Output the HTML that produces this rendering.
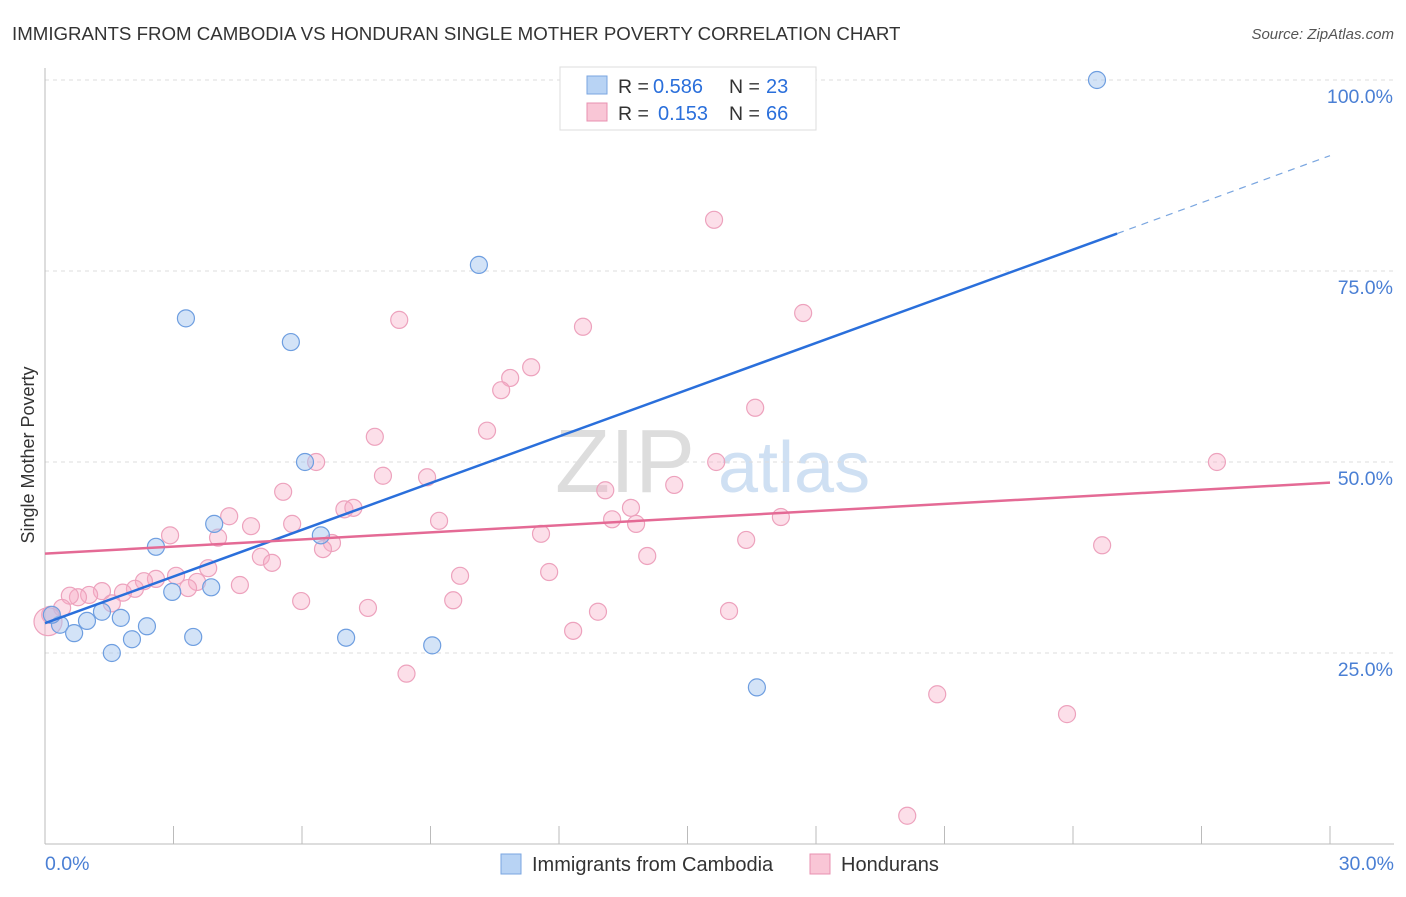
<!DOCTYPE html>
<html><head><meta charset="utf-8"><style>
body{margin:0;background:#fff;font-family:"Liberation Sans",sans-serif}
svg text{font-family:"Liberation Sans",sans-serif}
</style></head><body>
<svg id="chart" width="1406" height="892">
<text x="12" y="40" font-size="18.7" fill="#333">IMMIGRANTS FROM CAMBODIA VS HONDURAN SINGLE MOTHER POVERTY CORRELATION CHART</text>
<text x="1394" y="39" font-size="15" fill="#555" text-anchor="end" font-style="italic">Source: ZipAtlas.com</text>
<text x="555" y="492" font-size="90" fill="#ddd" font-family="Liberation Serif">ZIP</text>
<text x="718" y="492" font-size="72" fill="#cfe0f3">atlas</text>
<g id="grid"></g>
<g id="axes"></g>
<g id="marks"></g>
<text transform="translate(34,455) rotate(-90)" font-size="18" fill="#333" text-anchor="middle">Single Mother Poverty</text>
<g>
<rect x="560" y="67" width="256" height="63" fill="#fff" stroke="#ddd"/>
<rect x="587" y="76" width="20" height="18" fill="#b8d3f4" stroke="#7aa6e0"/>
<text x="618" y="93" font-size="19.5" fill="#333">R =</text>
<text x="653" y="93" font-size="20" fill="#2a6fdb">0.586</text>
<text x="729" y="93" font-size="19.5" fill="#333">N =</text>
<text x="766" y="93" font-size="20" fill="#2a6fdb">23</text>
<rect x="587" y="103" width="20" height="18" fill="#f9c6d6" stroke="#e890b0"/>
<text x="618" y="120" font-size="19.5" fill="#333">R =</text>
<text x="658" y="120" font-size="20" fill="#2a6fdb">0.153</text>
<text x="729" y="120" font-size="19.5" fill="#333">N =</text>
<text x="766" y="120" font-size="20" fill="#2a6fdb">66</text>
</g>
<g>
<rect x="501" y="854" width="20" height="20" fill="#b8d3f4" stroke="#7aa6e0"/>
<text x="532" y="871" font-size="20" fill="#333">Immigrants from Cambodia</text>
<rect x="810" y="854" width="20" height="20" fill="#f9c6d6" stroke="#e890b0"/>
<text x="841" y="871" font-size="20" fill="#333">Hondurans</text>
</g>
</svg>
<script>
const blueX=[24.56,10.13,3.29,5.74,6.07,6.44,3.95,2.59,2.97,3.88,1.33,1.77,0.98,0.35,0.68,2.38,2.03,1.56,3.46,7.03,9.04,16.62,0.16];
const blueY=[100,75.8,68.8,65.7,50,40.4,41.9,38.9,33,33.6,30.4,29.6,29.2,28.7,27.6,28.5,26.8,25,27.1,27,26,20.5,30];
const pinkX=[15.62,17.7,8.27,12.56,11.35,10.86,10.65,16.58,10.32,7.7,6.33,15.67,27.36,7.89,8.92,14.69,13.08,5.56,6.99,7.2,13.68,4.3,17.18,9.2,13.24,4.81,5.77,13.8,2.92,11.58,4.04,16.37,6.7,24.68,6.49,5.04,14.06,5.3,3.81,11.77,9.69,3.06,2.59,2.31,4.55,3.55,3.34,2.1,1.33,1.82,1.03,0.77,0.58,1.56,5.98,9.53,7.54,12.91,15.97,0.4,0.12,0.07,12.33,8.44,20.83,23.86,20.13];
const pinkY=[81.7,69.5,68.6,67.7,62.4,61,59.4,57.1,54.1,53.3,50,50,50,48.2,48,47,46.3,46.1,43.8,44,44,42.9,42.8,42.3,42.5,41.6,41.9,41.9,40.4,40.6,40.1,39.8,39.4,39.1,38.6,37.6,37.7,36.8,36.1,35.6,35.1,35.1,34.7,34.4,33.9,34.3,33.5,33.4,33.1,32.9,32.6,32.3,32.5,31.5,31.8,31.9,30.9,30.4,30.5,30.9,30,29.1,27.9,22.3,19.6,17,3.7];
const blueLine=[0,28.9,25.03,79.9,30,90.1];
const pinkLine=[0,38,30,47.3];
const yTicks=[25,50,75,100];
const yTickLabels=["25.0%","50.0%","75.0%","100.0%"];
const xTicks=[0,3,6,9,12,15,18,21,24,27,30];
const NS="http://www.w3.org/2000/svg";
const sx=v=>45+v*(1285/30), sy=v=>844-v*7.64;
function mk(t,a,p){const e=document.createElementNS(NS,t);for(const k in a)e.setAttribute(k,a[k]);p.appendChild(e);return e;}
const grid=document.getElementById('grid'),axes=document.getElementById('axes'),marks=document.getElementById('marks');
yTicks.forEach((v,i)=>{
 const g=mk('line',{x1:45,x2:1394,y1:sy(v),y2:sy(v),stroke:'#ddd','stroke-dasharray':'4,4'},grid);
 
 
 const t=mk('text',{x:1393,y:sy(v)+23,'font-size':19.5,fill:'#4a7fd4','text-anchor':'end'},axes);
 t.textContent=yTickLabels[i];
 
 
});
const ya=mk('line',{x1:45,x2:45,y1:68,y2:844,stroke:'#bbb'},axes);


const xa=mk('line',{x1:45,x2:1394,y1:844,y2:844,stroke:'#bbb'},axes);


xTicks.forEach(v=>{const t=mk('line',{x1:sx(v),x2:sx(v),y1:826,y2:844,stroke:'#bbb'},axes);
 
 });
const xl0=mk('text',{x:45,y:870,'font-size':19.5,fill:'#4a7fd4'},axes);xl0.textContent='0.0%';


const xl1=mk('text',{x:1394,y:870,'font-size':19.5,fill:'#4a7fd4','text-anchor':'end'},axes);xl1.textContent='30.0%';


pinkX.forEach((x,i)=>{const c=mk('circle',{cx:sx(x),cy:sy(pinkY[i]),r:i==61?14:8.5,fill:'rgba(246,170,196,0.38)',stroke:'#eda2bd','stroke-width':1.2},marks);
 
 });
blueX.forEach((x,i)=>{const c=mk('circle',{cx:sx(x),cy:sy(blueY[i]),r:8.5,fill:'rgba(168,200,240,0.5)',stroke:'#6e9ee0','stroke-width':1.2},marks);
 
 });
const bl=mk('line',{x1:sx(blueLine[0]),y1:sy(blueLine[1]),x2:sx(blueLine[2]),y2:sy(blueLine[3]),stroke:'#2a6fdb','stroke-width':2.5},marks);


const bd=mk('line',{x1:sx(blueLine[2]),y1:sy(blueLine[3]),x2:sx(blueLine[4]),y2:sy(blueLine[5]),stroke:'#7aa6e0','stroke-width':1.2,'stroke-dasharray':'7,6'},marks);


const pl=mk('line',{x1:sx(pinkLine[0]),y1:sy(pinkLine[1]),x2:sx(pinkLine[2]),y2:sy(pinkLine[3]),stroke:'#e46a95','stroke-width':2.5},marks);


</script>
</body></html>
